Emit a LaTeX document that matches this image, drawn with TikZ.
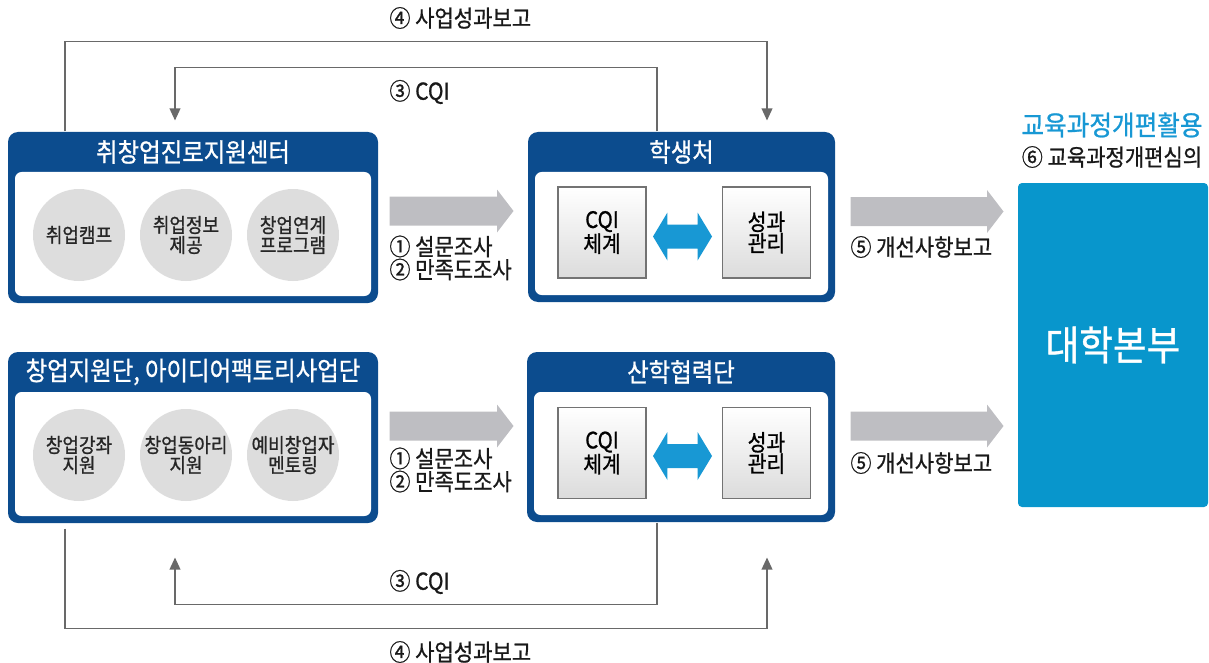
\documentclass[tikz,border=0pt]{standalone}
\usepackage{fontspec}
\setmainfont{Noto Sans CJK KR}[FakeStretch=0.9, FakeBold=0.9]
\usetikzlibrary{arrows.meta,shapes.arrows,calc}

\definecolor{hdblue}{RGB}{12,76,142}
\definecolor{hqblue}{RGB}{8,150,204}
\definecolor{skyblue}{RGB}{24,152,212}
\definecolor{fatgray}{RGB}{190,190,194}
\definecolor{circgray}{RGB}{221,221,221}
\definecolor{linegray}{RGB}{105,105,105}

\def\unitpx{0.75pt}

\tikzset{every picture/.style={line width=0.75pt}}
\tikzset{
    panel/.style={fill=hdblue, rounded corners=7.5pt, inner sep=0pt},
    panelin/.style={fill=white, rounded corners=5pt, inner sep=0pt},
    paneltitle/.style={text=white, inner sep=0pt, font=\fontsize{19.5}{22}\selectfont},
    item/.style={circle, fill=circgray, minimum size=92*\unitpx, inner sep=0pt, align=center, text=black!85, font=\fontsize{15}{15}\selectfont},
    cqibox/.style={draw=black!55, line width=0.9pt, top color=white, middle color=white, bottom color=black!14, minimum width=88*\unitpx, minimum height=91*\unitpx, inner sep=0pt, align=center, font=\fontsize{17}{16}\selectfont},
    fatarrow/.style={single arrow, fill=fatgray, inner sep=0pt, anchor=tail, text height=14*\unitpx, text depth=14*\unitpx, single arrow head extend=7*\unitpx, single arrow head indent=0pt, single arrow tip angle=105},
    linkarrow/.style={double arrow, fill=skyblue, inner sep=0pt, text height=11.5*\unitpx, text depth=11.5*\unitpx, minimum height=59*\unitpx, double arrow head extend=12*\unitpx, double arrow head indent=0pt, double arrow tip angle=118},
    flow/.style={draw=linegray, line width=1.1pt, -{Triangle[length=9pt,width=8pt]}},
    flowlabel/.style={inner sep=0pt, text=black!90, align=left, font=\fontsize{17.5}{15}\selectfont},
}

\begin{document}
\begin{tikzpicture}[x=0.75pt,y=0.75pt,yscale=-1,xscale=1]
    \useasboundingbox (0,0) rectangle (1209,663);

    %Career center (top left)
    \node [panel, minimum width=370*\unitpx, minimum height=171*\unitpx] (career) at (193,217.5) {};
    \node [panelin, minimum width=356*\unitpx, minimum height=124*\unitpx] (careerin) at (193,234) {};
    \node [paneltitle] (careertitle) at (193,152) {취창업진로지원센터};
    \node [item] (camp) at (79,235) {취업캠프};
    \node [item] (jobinfo) at (186,235) {취업정보\\제공};
    \node [item] (linkprog) at (293,235) {창업연계\\프로그램};

    %Startup groups (bottom left)
    \node [panel, minimum width=370*\unitpx, minimum height=171*\unitpx] (startup) at (193,437.5) {};
    \node [panelin, minimum width=356*\unitpx, minimum height=124*\unitpx] (startupin) at (193,454) {};
    \node [paneltitle] (startuptitle) at (193,372) {창업지원단, 아이디어팩토리사업단};
    \node [item] (lecture) at (79,455) {창업강좌\\지원};
    \node [item] (club) at (186,455) {창업동아리\\지원};
    \node [item] (mentor) at (293,455) {예비창업자\\멘토링};

    %Student affairs (top middle)
    \node [panel, minimum width=307*\unitpx, minimum height=170*\unitpx] (student) at (681.5,217) {};
    \node [panelin, minimum width=293*\unitpx, minimum height=123*\unitpx] (studentin) at (681.5,233.5) {};
    \node [paneltitle] (studenttitle) at (681.5,152) {학생처};
    \node [cqibox] (cqia) at (602,232.5) {CQI\\체계};
    \node [cqibox] (perfa) at (766.5,232.5) {성과\\관리};
    \node [linkarrow] (linka) at (682.5,236.5) {};

    %Industry cooperation (bottom middle)
    \node [panel, minimum width=308*\unitpx, minimum height=170*\unitpx] (industry) at (681,437) {};
    \node [panelin, minimum width=294*\unitpx, minimum height=123*\unitpx] (industryin) at (681,453.5) {};
    \node [paneltitle] (industrytitle) at (681,372) {산학협력단};
    \node [cqibox] (cqib) at (602,453) {CQI\\체계};
    \node [cqibox] (perfb) at (766.5,453) {성과\\관리};
    \node [linkarrow] (linkb) at (682.5,456) {};

    %Headquarters
    \node [fill=hqblue, rounded corners=3pt, minimum width=190*\unitpx, minimum height=324*\unitpx, text=white, font=\fontsize{30.5}{32}\selectfont] (hq) at (1113,345) {대학본부};
    \node [text=skyblue, inner sep=0pt, font=\fontsize{20.5}{22}\selectfont] (hquse) at (1112,125) {교육과정개편활용};
    \node [inner sep=0pt, text=black!90, font=\fontsize{17.5}{20}\selectfont] (hqreview) at (1112,157) {⑥ 교육과정개편심의};

    %Fat arrows
    \node [fatarrow, minimum height=124*\unitpx] (survey1) at (389,211) {};
    \node [fatarrow, minimum height=124*\unitpx] (survey2) at (389,426) {};
    \node [fatarrow, minimum height=153*\unitpx] (report1) at (850,211.5) {};
    \node [fatarrow, minimum height=153*\unitpx] (report2) at (850,426) {};
    \node [flowlabel, anchor=west] (surveylbl1) at (389,258) {① 설문조사\\② 만족도조사};
    \node [flowlabel, anchor=west] (surveylbl2) at (389,470) {① 설문조사\\② 만족도조사};
    \node [flowlabel, anchor=west] (reportlbl1) at (850,247) {⑤ 개선사항보고};
    \node [flowlabel, anchor=west] (reportlbl2) at (850,463) {⑤ 개선사항보고};

    %Loops
    %④ top
    \draw [flow] ($(career.north)+(-128,0)$) |- ($(student.north)+(85.5,-90)$) -- ($(student.north)+(85.5,-11)$);
    \node [flowlabel, anchor=west] (resultlbl1) at (389,18) {④ 사업성과보고};
    %③ top
    \draw [flow] ($(student.north)+(-24.5,0)$) |- ($(career.north)+(-18,-64)$) -- ($(career.north)+(-18,-11)$);
    \node [flowlabel, anchor=west] (cqilbl1) at (389,92) {③ CQI};
    %③ bottom
    \draw [flow] ($(industry.south)+(-24,0)$) |- ($(startup.south)+(-18,81)$) -- ($(startup.south)+(-18,34)$);
    \node [flowlabel, anchor=west] (cqilbl2) at (389,582) {③ CQI};
    %④ bottom
    \draw [flow] ($(startup.south)+(-128,5)$) |- ($(industry.south)+(86,106)$) -- ($(industry.south)+(86,35)$);
    \node [flowlabel, anchor=west] (resultlbl2) at (389,652) {④ 사업성과보고};
\end{tikzpicture}
\end{document}
